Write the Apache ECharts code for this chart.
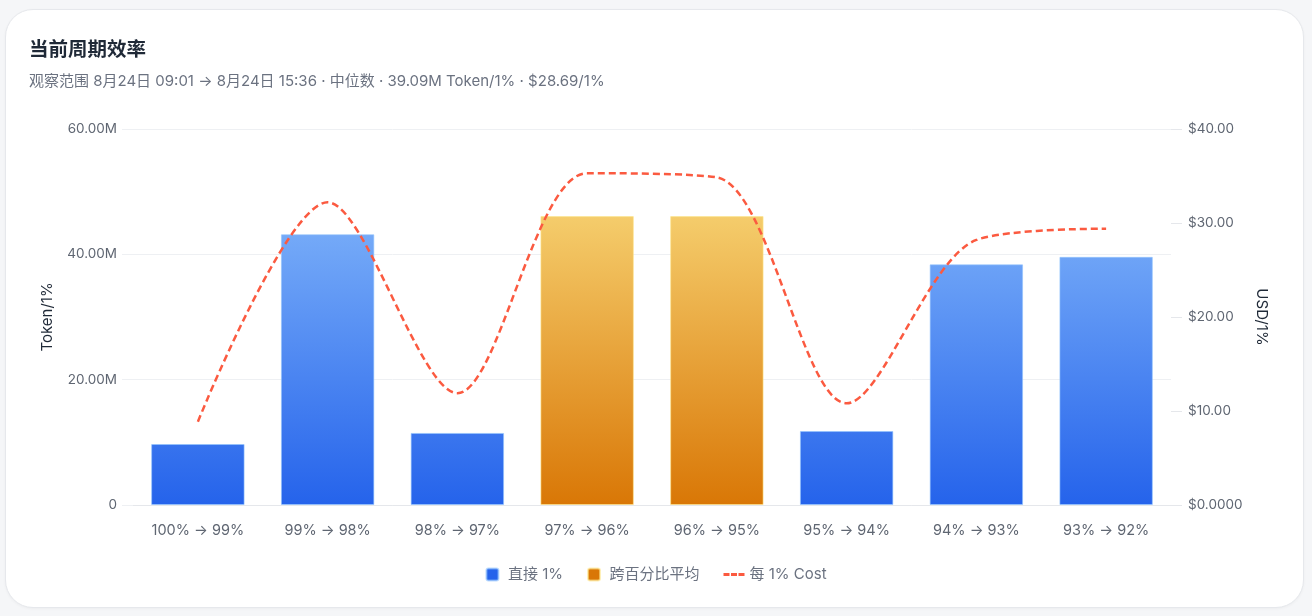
<!DOCTYPE html>
<html>
<head>
<meta charset="utf-8">
<script src="https://cdn.jsdelivr.net/npm/echarts@6/dist/echarts.min.js"></script>
<style>
  html, body { margin: 0; padding: 0; width: 1312px; height: 616px; background: #f5f6f8; overflow: hidden; }
  #card { position: absolute; left: 5px; top: 9px; width: 1297px; height: 597px; background: #fff;
          border: 1px solid #e6e8ec; border-radius: 28px; box-shadow: 0 1px 3px rgba(0,0,0,0.04); }
  #chart { position: absolute; left: 0; top: 0; width: 1312px; height: 616px; }
</style>
</head>
<body>
<div id="card"></div>
<div id="chart"></div>
<script>
const categories = ['100% → 99%', '99% → 98%', '98% → 97%', '97% → 96%', '96% → 95%', '95% → 94%', '94% → 93%', '93% → 92%'];
// Token per 1% (millions); null where the other series applies
const directTokens = [9.73, 43.2, 11.5, null, null, 11.8, 38.4, 39.6];
const averageTokens = [null, null, null, 46.1, 46.1, null, null, null];
// USD per 1%
const costPerPct = [8.86, 32.2, 11.9, 35.3, 34.85, 10.82, 28.2, 29.4];
const leftTicks = [0, 20, 40, 60];
const rightTicks = [0, 10, 20, 30, 40];

const FONT = "Inter, 'Noto Sans CJK SC', sans-serif";
const chart = echarts.init(document.getElementById('chart'));
const squareIcon = 'path://M2,0H10A2,2,0,0,1,12,2V10A2,2,0,0,1,10,12H2A2,2,0,0,1,0,10V2A2,2,0,0,1,2,0Z';
const dashIcon = 'path://M0,0H6V3H0Z M7.5,0H13.5V3H7.5Z M15,0H21V3H15Z';

const blueGrad = new echarts.graphic.LinearGradient(0, 129, 0, 505, [
  { offset: 0, color: '#93c5fd' }, { offset: 1, color: '#2563eb' }], true);
const orangeGrad = new echarts.graphic.LinearGradient(0, 129, 0, 505, [
  { offset: 0, color: '#fde68a' }, { offset: 1, color: '#d97706' }], true);

chart.setOption({
  animation: false,
  textStyle: { fontFamily: FONT },
  title: {
    left: 29, top: 40, padding: 0,
    text: '当前周期效率',
    subtext: '观察范围 8月24日 09:01 → 8月24日 15:36 · 中位数 · 39.09M Token/1% · $28.69/1%',
    itemGap: 14,
    textStyle: { fontSize: 19.5, fontWeight: 'bold', color: '#1f2937', fontFamily: FONT },
    subtextStyle: { fontSize: 15, color: '#6b7280', fontFamily: FONT }
  },
  legend: {
    top: 562, left: 'center',
    itemWidth: 21, itemHeight: 12, itemGap: 24,
    symbolKeepAspect: true,
    textStyle: { fontSize: 15, color: '#6b7280', fontFamily: FONT },
    data: [
      { name: '直接 1%', icon: squareIcon, itemStyle: { color: '#2563eb' } },
      { name: '跨百分比平均', icon: squareIcon, itemStyle: { color: '#d97706' } },
      { name: '每 1% Cost', icon: dashIcon, itemStyle: { color: '#fb5a40' } }
    ]
  },
  grid: { left: 133, right: 141, top: 129, bottom: 111 },
  xAxis: {
    type: 'category',
    data: categories,
    axisLine: { lineStyle: { color: '#e5e7eb' } },
    axisTick: { show: false },
    axisLabel: { color: '#5f6672', fontSize: 14.5, margin: 18, fontFamily: FONT }
  },
  yAxis: [
    {
      type: 'value', min: 0, max: 60e6, interval: 20e6,
      name: 'Token/1%', nameLocation: 'middle', nameGap: 78,
      nameTextStyle: { color: '#1f2937', fontSize: 15, fontFamily: FONT },
      axisLine: { show: false },
      axisTick: { show: true, length: 11, lineStyle: { color: '#eef0f3' } },
      splitLine: { lineStyle: { color: '#eef0f3' } },
      axisLabel: {
        color: '#5f6672', fontSize: 13.5, margin: 16, fontFamily: FONT,
        formatter: v => v === 0 ? '0' : (v / 1e6).toFixed(2) + 'M'
      }
    },
    {
      type: 'value', min: 0, max: 40, interval: 10,
      name: 'USD/1%', nameLocation: 'middle', nameGap: 83, nameRotate: -90,
      nameTextStyle: { color: '#1f2937', fontSize: 15, fontFamily: FONT },
      axisLine: { show: false },
      axisTick: { show: true, length: 11, lineStyle: { color: '#e5e7eb' } },
      splitLine: { show: false },
      axisLabel: {
        color: '#5f6672', fontSize: 13.5, margin: 17, fontFamily: FONT,
        formatter: v => v === 0 ? '$0.0000' : '$' + v.toFixed(2)
      }
    }
  ],
  series: [
    {
      name: '直接 1%', type: 'bar', stack: 'tok', barWidth: '72%',
      data: directTokens.map(v => v == null ? null : v * 1e6),
      itemStyle: { color: blueGrad, borderColor: 'rgba(147,197,253,0.6)', borderWidth: 1 }
    },
    {
      name: '跨百分比平均', type: 'bar', stack: 'tok', barWidth: '72%',
      data: averageTokens.map(v => v == null ? null : v * 1e6),
      itemStyle: { color: orangeGrad, borderColor: 'rgba(253,230,138,0.6)', borderWidth: 1 }
    },
    {
      name: '每 1% Cost', type: 'line', yAxisIndex: 1, smooth: 0.3,
      symbol: 'none', data: costPerPct, z: 5,
      itemStyle: { color: '#fb5a40' },
      lineStyle: { color: '#fb5a40', width: 2.5, type: [7, 4] }
    }
  ]
});
</script>
</body>
</html>
